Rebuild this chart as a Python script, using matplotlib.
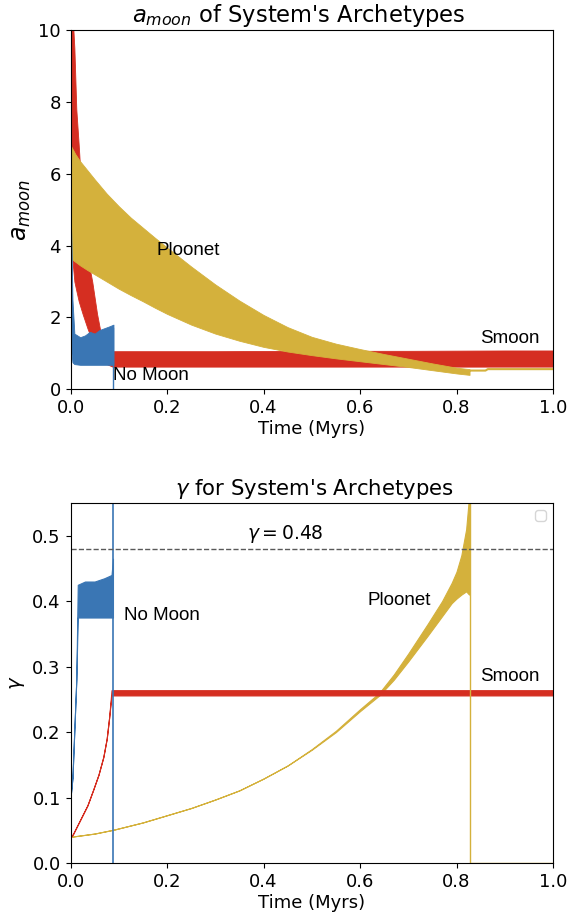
import matplotlib
matplotlib.use("Agg")
import matplotlib.pyplot as plt
import numpy as np

RED = "#d52e21"
GOLD = "#d4b13c"
BLUE = "#3a76b4"
LBL_FONT = ["Liberation Sans", "DejaVu Sans"]

# ---- a_moon (top panel), envelopes ----
smoon_t = [0.0, 0.004, 0.008, 0.012, 0.017, 0.025, 0.035, 0.045, 0.055, 0.065,
           0.075, 0.087, 0.1, 0.3, 0.5, 0.7, 0.9, 1.0]
smoon_hi = [12.0, 10.5, 9.5, 7.8, 6.8, 5.0, 3.7, 3.0, 2.1, 1.4,
            1.1, 1.06, 1.06, 1.06, 1.07, 1.07, 1.08, 1.08]
smoon_lo = [5.0, 3.6, 3.0, 2.75, 2.45, 2.1, 1.7, 1.35, 1.15, 0.9,
            0.7, 0.63, 0.63, 0.63, 0.63, 0.63, 0.63, 0.63]

ploonet_t = [0.0, 0.01, 0.02, 0.035, 0.05, 0.075, 0.1, 0.125, 0.15, 0.175, 0.2,
             0.25, 0.3, 0.35, 0.4, 0.45, 0.5, 0.55, 0.6, 0.65, 0.7, 0.75, 0.8, 0.827]
ploonet_hi = [6.8, 6.55, 6.35, 6.1, 5.85, 5.45, 5.1, 4.78, 4.5, 4.22, 3.95,
              3.42, 2.92, 2.47, 2.07, 1.73, 1.46, 1.27, 1.12, 0.98, 0.85, 0.72, 0.6, 0.56]
ploonet_lo = [3.65, 3.55, 3.45, 3.32, 3.2, 3.0, 2.8, 2.62, 2.45, 2.27, 2.1,
              1.8, 1.55, 1.35, 1.18, 1.05, 0.95, 0.86, 0.78, 0.7, 0.62, 0.53, 0.44, 0.4]
ploonet_tail_t = [0.827, 0.829, 0.86, 0.865, 1.0]
ploonet_tail_a = [0.5, 0.52, 0.52, 0.56, 0.56]

nomoon_t = [0.0, 0.002, 0.004, 0.008, 0.02, 0.03, 0.04, 0.05, 0.06, 0.07, 0.08, 0.089]
nomoon_hi = [5.2, 4.0, 2.5, 1.55, 1.45, 1.5, 1.6, 1.55, 1.65, 1.7, 1.75, 1.8]
nomoon_lo = [1.6, 1.0, 0.75, 0.7, 0.68, 0.68, 0.68, 0.68, 0.68, 0.68, 0.68, 0.68]
nomoon_tail_t = [0.089, 0.089]
nomoon_tail_a = [1.7, 0.0]

# ---- gamma (bottom panel) ----
smoon_g_t = [0.0, 0.005, 0.02, 0.035, 0.047, 0.058, 0.068, 0.075, 0.08, 0.085,
             0.2, 0.4, 0.6, 0.8, 1.0]
smoon_g_lo = [0.04, 0.044, 0.066, 0.088, 0.112, 0.135, 0.162, 0.19, 0.222, 0.256,
              0.256, 0.256, 0.256, 0.256, 0.256]
smoon_g_hi = [0.04, 0.044, 0.066, 0.088, 0.112, 0.135, 0.162, 0.19, 0.222, 0.264,
              0.264, 0.264, 0.264, 0.264, 0.264]

ploonet_g_t = [0.0, 0.05, 0.09, 0.15, 0.2, 0.25, 0.3, 0.35, 0.4, 0.45, 0.5, 0.55,
               0.6, 0.64, 0.67, 0.7, 0.74, 0.77, 0.79, 0.8, 0.81, 0.82, 0.826]
ploonet_g_lo = [0.04, 0.045, 0.051, 0.062, 0.073, 0.084, 0.097, 0.111, 0.129, 0.149,
                0.173, 0.2, 0.232, 0.256, 0.28, 0.308, 0.347, 0.377, 0.397, 0.404,
                0.41, 0.415, 0.41]
ploonet_g_hi = [0.04, 0.045, 0.051, 0.062, 0.073, 0.084, 0.097, 0.111, 0.129, 0.149,
                0.174, 0.202, 0.235, 0.26, 0.288, 0.32, 0.365, 0.4, 0.428, 0.445,
                0.47, 0.51, 0.56]
ploonet_g_tail_t = [0.827, 0.827, 1.0]
ploonet_g_tail = [0.6, 0.0, 0.0]

nomoon_g_t = [0.0, 0.004, 0.012, 0.015, 0.03, 0.05, 0.07, 0.085, 0.088]
nomoon_g_lo = [0.10, 0.13, 0.28, 0.375, 0.375, 0.375, 0.375, 0.375, 0.375]
nomoon_g_hi = [0.10, 0.13, 0.28, 0.425, 0.43, 0.43, 0.435, 0.44, 0.465]
nomoon_g_tail_t = [0.089, 0.089]
nomoon_g_tail = [0.0, 1.0]

gamma_crit = 0.48
xticks = [0.0, 0.2, 0.4, 0.6, 0.8, 1.0]

fig = plt.figure(figsize=(5.71, 9.18), dpi=100)
ax1 = fig.add_axes([0.1235, 0.576, 0.8450, 0.391])
ax2 = fig.add_axes([0.1235, 0.0599, 0.8450, 0.3922])

# top panel
ax1.fill_between(smoon_t, smoon_lo, smoon_hi, color=RED, lw=0.6)
ax1.fill_between(ploonet_t, ploonet_lo, ploonet_hi, color=GOLD, lw=0.6)
ax1.plot(ploonet_tail_t, ploonet_tail_a, color=GOLD, lw=1.5)
ax1.fill_between(nomoon_t, nomoon_lo, nomoon_hi, color=BLUE, lw=0.6)
ax1.plot(nomoon_tail_t, nomoon_tail_a, color=BLUE, lw=1.0)

ax1.text(0.178, 3.87, "Ploonet", fontsize=13.5, family=LBL_FONT, va="center")
ax1.text(0.848, 1.40, "Smoon", fontsize=13.5, family=LBL_FONT, va="center")
ax1.text(0.088, 0.38, "No Moon", fontsize=13.5, family=LBL_FONT, va="center")

ax1.set_xlim(0, 1)
ax1.set_ylim(0, 10)
ax1.set_xticks(xticks)
ax1.set_title("$a_{moon}$ of System's Archetypes", fontsize=16.3, x=0.472)
ax1.set_ylabel("$a_{moon}$", fontsize=17)
ax1.set_xlabel("Time (Myrs)", fontsize=13, labelpad=2)
ax1.tick_params(labelsize=13)

# bottom panel
ax2.fill_between(ploonet_g_t, ploonet_g_lo, ploonet_g_hi, color=GOLD, lw=0.8)
ax2.plot(ploonet_g_tail_t, ploonet_g_tail, color=GOLD, lw=1.0)
ax2.fill_between(smoon_g_t, smoon_g_lo, smoon_g_hi, color=RED, lw=0.8)
ax2.fill_between(nomoon_g_t, nomoon_g_lo, nomoon_g_hi, color=BLUE, lw=0.8)
ax2.plot(nomoon_g_tail_t, nomoon_g_tail, color=BLUE, lw=1.2)
ax2.axhline(gamma_crit, color="0.35", ls="--", lw=1.0)

ax2.text(0.365, 0.503, r"$\gamma = 0.48$", fontsize=13.5, va="center")
ax2.text(0.111, 0.378, "No Moon", fontsize=13.5, family=LBL_FONT, va="center")
ax2.text(0.616, 0.401, "Ploonet", fontsize=13.5, family=LBL_FONT, va="center")
ax2.text(0.848, 0.285, "Smoon", fontsize=13.5, family=LBL_FONT, va="center")

ax2.set_xlim(0, 1)
ax2.set_ylim(0, 0.55)
ax2.set_xticks(xticks)
ax2.set_yticks([0.0, 0.1, 0.2, 0.3, 0.4, 0.5])
ax2.set_title(r"$\gamma$ for System's Archetypes", fontsize=15.3, x=0.505)
ax2.set_ylabel(r"$\gamma$", fontsize=14)
ax2.set_xlabel("Time (Myrs)", fontsize=13, labelpad=2)
ax2.tick_params(labelsize=13)
ax2.legend(loc="upper right")

fig.savefig("out.png", dpi=100)
